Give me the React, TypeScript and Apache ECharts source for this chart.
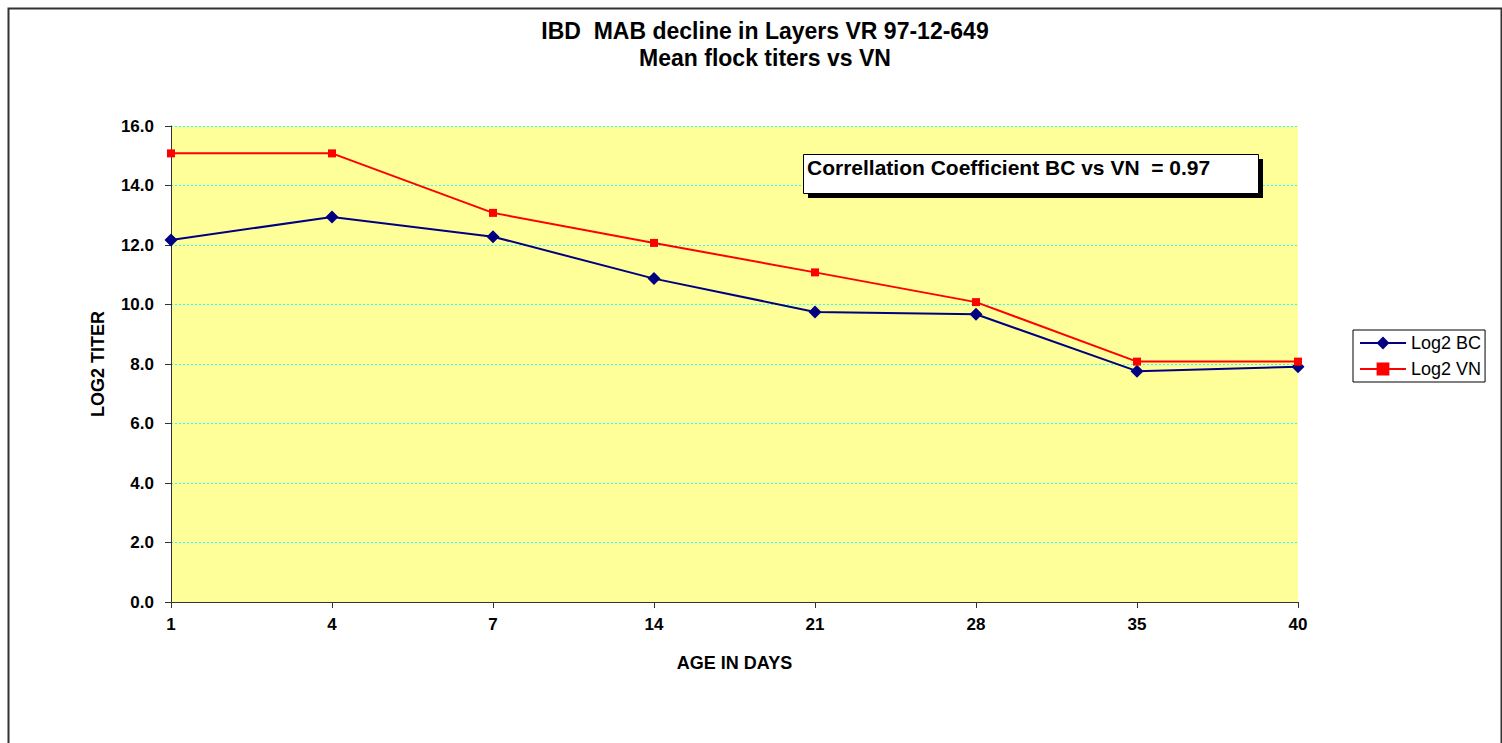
import React, { useEffect, useRef } from "react";
import * as echarts from "echarts";

const days = ["1", "4", "7", "14", "21", "28", "35", "40"];
const log2BC = [12.17, 12.94, 12.28, 10.87, 9.75, 9.67, 7.76, 7.91];
const log2VN = [15.08, 15.08, 13.08, 12.07, 11.08, 10.08, 8.08, 8.08];
const titleLines = ["IBD  MAB decline in Layers VR 97-12-649", "Mean flock titers vs VN"];
const correlationText = "Correllation Coefficient BC vs VN  = 0.97";

const FONT = "Arial, 'Liberation Sans', sans-serif";

export default function App() {
  const ref = useRef<HTMLDivElement>(null);
  useEffect(() => {
    document.body.style.margin = "0";
    const chart = echarts.init(ref.current!, undefined, { renderer: "svg" });
    chart.setOption({
      animation: false,
      backgroundColor: "#ffffff",
      textStyle: { fontFamily: FONT },
      title: {
        text: titleLines.join("\n"),
        left: 760,
        textAlign: "center",
        top: 12,
        textStyle: { fontSize: 23, fontWeight: "bold", color: "#000", lineHeight: 27, fontFamily: FONT },
      },
      grid: { left: 171, right: 204, top: 126, bottom: 141, backgroundColor: "#FFFF99", show: true, borderWidth: 0 },
      legend: {
        orient: "vertical",
        left: 1353,
        top: 330,
        itemWidth: 46,
        itemHeight: 16,
        itemGap: 8,
        padding: [4, 4, 4, 6],
        borderColor: "#000",
        borderWidth: 1,
        backgroundColor: "#fff",
        textStyle: { fontSize: 18, color: "#000", fontFamily: FONT },
        data: ["Log2 BC", "Log2 VN"],
      },
      xAxis: {
        type: "category",
        data: days,
        boundaryGap: false,
        name: "AGE IN DAYS",
        nameLocation: "middle",
        nameGap: 52,
        nameTextStyle: { fontSize: 18, fontWeight: "bold", color: "#000", fontFamily: FONT },
        axisLine: { lineStyle: { color: "#333", width: 1 } },
        axisTick: { show: true, length: 6, lineStyle: { color: "#333" } },
        axisLabel: { fontSize: 17, fontWeight: "bold", color: "#000", margin: 14 },
        splitLine: { show: false },
      },
      yAxis: {
        type: "value",
        min: 0,
        max: 16,
        interval: 2,
        name: "LOG2 TITER",
        nameLocation: "middle",
        nameGap: 64,
        nameTextStyle: { fontSize: 18, fontWeight: "bold", color: "#000", fontFamily: FONT },
        axisLine: { show: true, lineStyle: { color: "#333", width: 1 } },
        axisTick: { show: true, length: 6, lineStyle: { color: "#333" } },
        axisLabel: { fontSize: 17, fontWeight: "bold", color: "#000", margin: 17, formatter: (v: number) => v.toFixed(1) },
        splitLine: { show: true, lineStyle: { color: "#22ffff", type: [2, 2], width: 1 } },
      },
      series: [
        {
          name: "Log2 BC",
          type: "line",
          data: log2BC,
          symbol: "diamond",
          symbolSize: 13,
          itemStyle: { color: "#000080" },
          lineStyle: { color: "#000080", width: 2 },
        },
        {
          name: "Log2 VN",
          type: "line",
          data: log2VN,
          symbol: "rect",
          symbolSize: 8,
          itemStyle: { color: "#ff0000" },
          lineStyle: { color: "#ff0000", width: 2 },
        },
      ],
      graphic: [
        {
          type: "rect",
          left: 6,
          top: 6,
          shape: { width: 1493, height: 745 },
          style: { fill: "none", stroke: "#333", lineWidth: 2 },
          silent: true,
        },
        {
          type: "rect",
          left: 808,
          top: 159,
          shape: { width: 455, height: 39 },
          style: { fill: "#000" },
          z: 100,
        },
        {
          type: "rect",
          left: 803,
          top: 154,
          shape: { width: 455, height: 39 },
          style: { fill: "#fff", stroke: "#000", lineWidth: 1 },
          z: 101,
        },
        {
          type: "text",
          left: 807,
          top: 157,
          style: { text: correlationText, fontSize: 21, fontWeight: "bold", fill: "#000", fontFamily: FONT },
          z: 102,
        },
      ],
    });
    return () => chart.dispose();
  }, []);
  return <div ref={ref} style={{ position: "absolute", left: 0, top: 0, width: 1502, height: 743 }} />;
}
